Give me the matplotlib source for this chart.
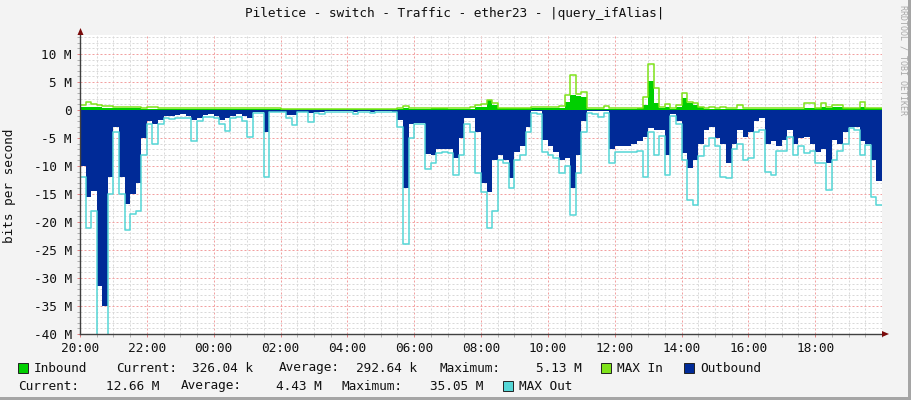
import numpy as np
import matplotlib
matplotlib.use("Agg")
import matplotlib.pyplot as plt
from matplotlib.patches import Rectangle, Polygon

W, H = 911, 400

title = "Piletice - switch - Traffic - ether23 - |query_ifAlias|"
hour_ticks = [0, 2, 4, 6, 8, 10, 12, 14, 16, 18, 20, 22]
hour_labels = ["20:00", "22:00", "00:00", "02:00", "04:00", "06:00",
               "08:00", "10:00", "12:00", "14:00", "16:00", "18:00"]
y_ticks = [10, 5, 0, -5, -10, -15, -20, -25, -30, -35, -40]
y_labels = ["10 M", "5 M", "0", "-5 M", "-10 M", "-15 M", "-20 M",
            "-25 M", "-30 M", "-35 M", "-40 M"]

# 10-minute samples (Mbit/s), starting 20:00
inbound = [0.5, 0.6, 0.5, 0.5, 0.4, 0.4, 0.35, 0.3, 0.3, 0.3, 0.3, 0.25,
           0.2, 0.2, 0.2, 0.2, 0.2, 0.2, 0.2, 0.2, 0.2, 0.2, 0.2, 0.2,
           0.2, 0.25, 0.2, 0.2, 0.2, 0.2, 0.2, 0.2, 0.2, 0.2, 0.2, 0.2,
           0.15, 0.15, 0.15, 0.15, 0.15, 0.15, 0.15, 0.15, 0.15, 0.15, 0.15, 0.15,
           0.15, 0.15, 0.15, 0.15, 0.15, 0.15, 0.15, 0.15, 0.15, 0.2, 0.3, 0.2,
           0.25, 0.25, 0.25, 0.3, 0.3, 0.3, 0.25, 0.25, 0.25, 0.25, 0.25, 0.6,
           0.6, 1.8, 0.9, 0.35, 0.3, 0.3, 0.3, 0.3, 0.3, 0.3, 0.3, 0.3,
           0.3, 0.3, 0.3, 1.5, 2.7, 2.5, 2.4, 0.2, 0.2, 0.2, 0.2, 0.2,
           0.2, 0.2, 0.2, 0.2, 0.3, 0.9, 5.13, 1.2, 0.4, 0.5, 0.2, 0.6,
           2.1, 1.2, 0.9, 0.5, 0.25, 0.25, 0.25, 0.25, 0.25, 0.25, 0.25, 0.25,
           0.25, 0.25, 0.25, 0.25, 0.25, 0.25, 0.25, 0.25, 0.25, 0.25, 0.3, 0.3,
           0.3, 0.6, 0.3, 0.6, 0.6, 0.3, 0.3, 0.3, 0.6, 0.33, 0.33, 0.326]

max_in = [0.9, 1.4, 1.0, 0.9, 0.8, 0.8, 0.6, 0.5, 0.5, 0.5, 0.45, 0.4,
          0.5, 0.5, 0.4, 0.3, 0.3, 0.3, 0.3, 0.3, 0.3, 0.3, 0.3, 0.3,
          0.3, 0.4, 0.3, 0.3, 0.3, 0.3, 0.3, 0.3, 0.3, 0.4, 0.3, 0.3,
          0.25, 0.25, 0.25, 0.25, 0.25, 0.25, 0.25, 0.25, 0.25, 0.25, 0.25, 0.25,
          0.25, 0.25, 0.25, 0.25, 0.25, 0.25, 0.25, 0.25, 0.25, 0.3, 0.8, 0.3,
          0.35, 0.35, 0.35, 0.4, 0.4, 0.4, 0.35, 0.35, 0.35, 0.35, 0.5, 0.9,
          1.0, 1.8, 1.2, 0.4, 0.35, 0.35, 0.35, 0.35, 0.35, 0.5, 0.5, 0.5,
          0.5, 0.5, 0.7, 2.7, 6.25, 2.8, 3.3, 0.3, 0.3, 0.3, 0.7, 0.3,
          0.3, 0.3, 0.3, 0.3, 0.35, 2.4, 8.3, 3.9, 0.6, 1.0, 0.3, 0.9,
          3.0, 1.5, 1.2, 0.6, 0.35, 0.6, 0.35, 0.5, 0.35, 0.35, 0.9, 0.35,
          0.35, 0.35, 0.35, 0.35, 0.35, 0.35, 0.35, 0.35, 0.35, 0.35, 1.2, 1.2,
          0.4, 1.2, 0.6, 0.9, 0.9, 0.4, 0.4, 0.4, 1.4, 0.4, 0.4, 0.4]

outbound = [10, 15.5, 14.5, 31.5, 35.05, 12, 3, 12, 16.7, 15, 13, 5,
            2, 2.5, 1.8, 1, 1, 0.9, 0.8, 1, 1.8, 1.5, 0.9, 0.8,
            1, 1.8, 1.5, 1, 0.8, 1, 1.5, 0.4, 0.4, 4, 0.3, 0.3,
            0.3, 0.9, 0.9, 0.3, 0.3, 0.6, 0.3, 0.4, 0.2, 0.2, 0.2, 0.2,
            0.2, 0.4, 0.2, 0.2, 0.4, 0.2, 0.2, 0.2, 0.3, 1.8, 14, 2.5,
            2.4, 2.4, 7.8, 8, 7, 7, 7, 8.6, 5, 1.5, 1.5, 4,
            13, 14.6, 9, 8, 9, 12.2, 7.5, 6.5, 3, 0.1, 0.1, 5.4,
            6.5, 7.5, 9, 8.5, 14, 8, 2, 0.2, 0.2, 0.2, 0.2, 7,
            6.5, 6.5, 6.5, 6, 5.5, 4.8, 3.3, 3.5, 3.5, 8, 0.8, 2,
            7.7, 10.4, 9, 6, 3.6, 3, 5, 6, 9.5, 6, 3.6, 4.8,
            4, 2, 1.5, 6, 5.5, 6.5, 5.4, 3.6, 6, 5, 4.8, 6,
            7.5, 7, 9.5, 5.4, 6, 4, 3, 3, 5.6, 6, 9, 12.66]

max_out = [12, 21, 18, 40.5, 40.5, 15, 4, 15, 21.4, 18.5, 18, 8,
           2.5, 6, 2.5, 1.5, 1.6, 1.5, 1.4, 1.5, 5.5, 2, 1.2, 1.2,
           1.5, 2.5, 3.8, 1.5, 1.3, 2, 4.8, 0.6, 0.6, 11.9, 0.4, 0.4,
           0.4, 1.5, 2.6, 0.4, 0.4, 2.2, 0.5, 0.7, 0.3, 0.3, 0.3, 0.3,
           0.3, 0.8, 0.3, 0.3, 0.6, 0.3, 0.3, 0.3, 0.4, 3, 24, 5,
           2.5, 2.5, 10.5, 9.5, 7.6, 7.5, 7.6, 11.6, 8, 2.5, 4, 11.3,
           14.6, 21, 18, 9, 9.5, 14, 9, 8, 4, 0.5, 0.8, 7.5,
           8, 8.5, 11.3, 10, 18.75, 11.3, 4, 0.5, 0.8, 1.2, 0.6, 9.5,
           7.5, 7.5, 7.5, 7.5, 7.4, 12, 4, 8, 4.6, 11.6, 1, 2.5,
           9, 16, 17, 8.3, 6.5, 5, 6.5, 12, 12.2, 7, 6, 9,
           8.6, 4, 3.5, 11, 11.6, 7.4, 7.4, 4.8, 8, 6.5, 7.7, 7.4,
           9.5, 9.5, 14.3, 8.9, 7.4, 6, 3.3, 3.6, 8, 6.3, 15.5, 17]

C_IN = "#00CF00"
C_MAXIN = "#7FE31A"
C_OUT = "#002A97"
C_MAXOUT = "#55D6D6"
BG = "#F3F3F3"
FONT = "DejaVu Sans Mono"
FS = 9.2

n = len(outbound)
edges = np.arange(n + 1) / 6.0

def ext(v, sign=1.0):
    a = sign * np.asarray(v, dtype=float)
    return np.append(a, a[-1])

fig = plt.figure(figsize=(W / 100, H / 100), dpi=100, facecolor=BG)

def px(x, y):
    return x / W, 1 - y / H

# plot area: x 80..882, y 35..334
ax = fig.add_axes([80 / W, (H - 334) / H, 802 / W, 299 / H])
ax.set_facecolor("white")
ax.set_xlim(0, 24)
ax.set_ylim(-40, (110 - 35) / 5.6)

ax.fill_between(edges, 0, ext(outbound, -1), step="post", color=C_OUT, lw=0, zorder=2)
ax.step(edges, ext(max_out, -1), where="post", color=C_MAXOUT, lw=1.1, zorder=3)
ax.fill_between(edges, 0, ext(inbound), step="post", color=C_IN, lw=0, zorder=4)
ax.step(edges, ext(max_in), where="post", color=C_MAXIN, lw=1.1, zorder=5)

ax.set_xticks(hour_ticks)
ax.set_xticklabels(hour_labels)
ax.set_xticks(np.arange(0, 24.01, 0.5), minor=True)
ax.set_yticks(y_ticks)
ax.set_yticklabels(y_labels)
ax.set_yticks(np.arange(-40, 13.5, 1), minor=True)

ax.set_axisbelow(True)
ax.grid(which="minor", color="#D9D9D9", linestyle=(0, (2, 2)), lw=0.72)
ax.grid(which="major", color="#F2A0A0", linestyle=(0, (2, 2)), lw=0.72)

for s in ("top", "right"):
    ax.spines[s].set_visible(False)
for s in ("left", "bottom"):
    ax.spines[s].set_color("#404040")
    ax.spines[s].set_linewidth(1.0)
    ax.spines[s].set_zorder(6)

ax.tick_params(which="both", direction="out", colors="#B0B0B0", length=2,
               width=0.7, labelcolor="#111111")
ax.tick_params(which="major", colors="#E08080", labelcolor="#111111")
ax.tick_params(axis="x", which="major", pad=4)
ax.tick_params(axis="y", which="major", pad=4)
for lab in ax.get_xticklabels() + ax.get_yticklabels():
    lab.set_fontfamily(FONT)
    lab.set_fontsize(FS)

# arrows
fig.patches.append(Polygon([px(80.5, 28), px(77.5, 35), px(83.5, 35)],
                           closed=True, transform=fig.transFigure,
                           facecolor="#7A0A0A", edgecolor="none", zorder=10))
fig.patches.append(Polygon([px(889, 334), px(882, 331), px(882, 337)],
                           closed=True, transform=fig.transFigure,
                           facecolor="#7A0A0A", edgecolor="none", zorder=10))

# borders
fig.patches.append(Rectangle(px(908, 400), 3 / W, 1, transform=fig.transFigure,
                             facecolor="#A5A5A5", edgecolor="none"))
fig.patches.append(Rectangle(px(0, 400), 1, 3 / H, transform=fig.transFigure,
                             facecolor="#A5A5A5", edgecolor="none"))

# title & labels
fig.text(*px(455, 14), title, ha="center", va="center", family=FONT,
         fontsize=FS, color="#111111")
fig.text(*px(10, 186), "bits per second", ha="center", va="center",
         rotation=90, family=FONT, fontsize=FS, color="#111111")
fig.text(*px(903, 60), "RRDTOOL / TOBI OETIKER", ha="center", va="center",
         rotation=270, family=FONT, fontsize=6, color="#A8A8A8")

# legend
def swatch(x, y, c):
    fig.patches.append(Rectangle(px(x, y + 5), 10 / W, 10 / H,
                                 transform=fig.transFigure, facecolor=c,
                                 edgecolor="#222222", lw=0.7))

def t(x, y, s):
    fig.text(*px(x, y), s, ha="left", va="center", family=FONT,
             fontsize=FS, color="#111111")

r1, r2 = 368, 386
swatch(18, r1, C_IN)
t(33.5, r1, "Inbound")
t(116, r1, "Current:")
t(192, r1, "326.04 k")
t(279, r1, "Average:")
t(356, r1, "292.64 k")
t(440, r1, "Maximum:")
t(536, r1, "5.13 M")
swatch(601, r1, C_MAXIN)
t(617, r1, "MAX In")
swatch(684, r1, C_OUT)
t(700, r1, "Outbound")
t(18.5, r2, "Current:")
t(106, r2, "12.66 M")
t(181, r2, "Average:")
t(276, r2, "4.43 M")
t(342, r2, "Maximum:")
t(430, r2, "35.05 M")
swatch(503, r2, C_MAXOUT)
t(519, r2, "MAX Out")

fig.savefig("out.png", dpi=100, facecolor=BG)
